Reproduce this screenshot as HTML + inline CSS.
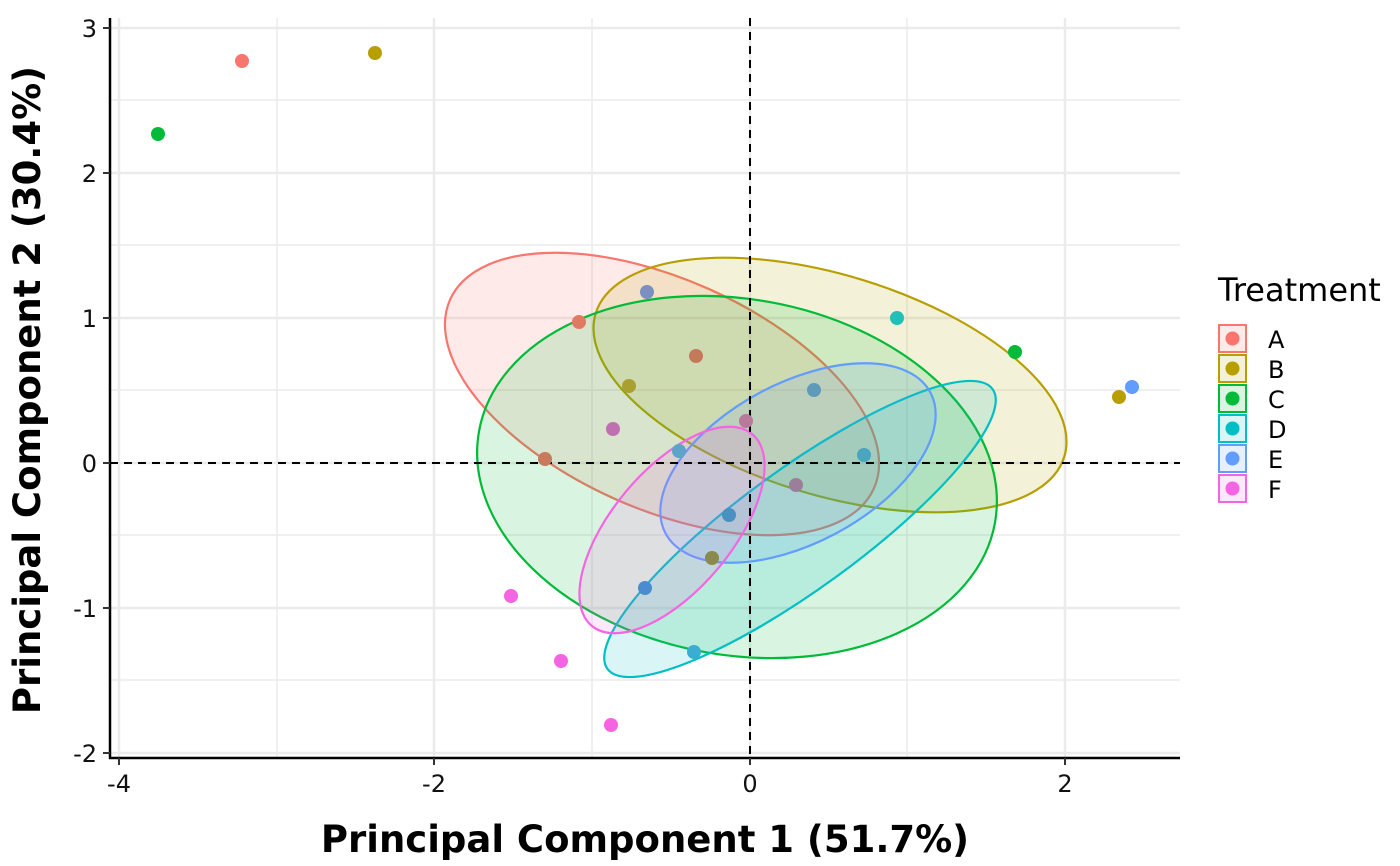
<!DOCTYPE html>
<html><head><meta charset="utf-8"><style>
html,body{margin:0;padding:0;background:#fff;}
svg{display:block;font-family:"DejaVu Sans","Liberation Sans",sans-serif;}
</style></head><body>
<svg width="1400" height="866" xmlns="http://www.w3.org/2000/svg">
<rect width="1400" height="866" fill="#fff"/>
<g stroke="#ebebeb" stroke-width="1.5">
<line x1="277" y1="18" x2="277" y2="758"/><line x1="592" y1="18" x2="592" y2="758"/><line x1="907" y1="18" x2="907" y2="758"/>
<line x1="110" y1="100" x2="1180" y2="100"/><line x1="110" y1="245" x2="1180" y2="245"/><line x1="110" y1="390" x2="1180" y2="390"/><line x1="110" y1="535" x2="1180" y2="535"/><line x1="110" y1="680" x2="1180" y2="680"/>
</g>
<g stroke="#ebebeb" stroke-width="2.5">
<line x1="119" y1="18" x2="119" y2="758"/><line x1="434" y1="18" x2="434" y2="758"/><line x1="750" y1="18" x2="750" y2="758"/><line x1="1065" y1="18" x2="1065" y2="758"/>
<line x1="110" y1="28" x2="1180" y2="28"/><line x1="110" y1="173" x2="1180" y2="173"/><line x1="110" y1="318" x2="1180" y2="318"/><line x1="110" y1="463" x2="1180" y2="463"/><line x1="110" y1="608" x2="1180" y2="608"/><line x1="110" y1="753" x2="1180" y2="753"/>
</g>
<g stroke-width="2.2">
<ellipse cx="662" cy="394" rx="232" ry="115" transform="rotate(24 662 394)" fill="#F8766D" fill-opacity="0.15" stroke="#F8766D"/>
<ellipse cx="830" cy="385" rx="245" ry="110" transform="rotate(17 830 385)" fill="#B79F00" fill-opacity="0.15" stroke="#B79F00"/>
<ellipse cx="737" cy="477" rx="262" ry="178" transform="rotate(10 737 477)" fill="#00BA38" fill-opacity="0.15" stroke="#00BA38"/>
<ellipse cx="800" cy="529" rx="238" ry="60" transform="rotate(-36 800 529)" fill="#00BFC4" fill-opacity="0.15" stroke="#00BFC4"/>
<ellipse cx="798" cy="463" rx="150" ry="80" transform="rotate(-28 798 463)" fill="#619CFF" fill-opacity="0.15" stroke="#619CFF"/>
<ellipse cx="672" cy="530" rx="125" ry="60" transform="rotate(-50 672 530)" fill="#F564E3" fill-opacity="0.15" stroke="#F564E3"/>
</g>
<g stroke="#000" stroke-width="2" stroke-dasharray="8,6">
<line x1="750" y1="18" x2="750" y2="758"/><line x1="110" y1="463" x2="1180" y2="463"/>
</g>
<g>
<circle cx="242" cy="61" r="7" fill="#F8766D"/>
<circle cx="375" cy="53" r="7" fill="#B79F00"/>
<circle cx="158" cy="134" r="7" fill="#00BA38"/>
<circle cx="647" cy="292" r="7" fill="#7b8fc0"/>
<circle cx="579" cy="322" r="7" fill="#e07a60"/>
<circle cx="897" cy="318" r="7" fill="#1fc0b8"/>
<circle cx="1015" cy="352" r="7" fill="#00BA38"/>
<circle cx="696" cy="356" r="7" fill="#c47a5a"/>
<circle cx="629" cy="386" r="7" fill="#a9a030"/>
<circle cx="814" cy="390" r="7" fill="#5f9bb8"/>
<circle cx="1119" cy="397" r="7" fill="#B79F00"/>
<circle cx="1132" cy="387" r="7" fill="#619CFF"/>
<circle cx="746" cy="421" r="7" fill="#b87a9a"/>
<circle cx="613" cy="429" r="7" fill="#c070b0"/>
<circle cx="545" cy="459" r="7" fill="#c87a5c"/>
<circle cx="679" cy="451" r="7" fill="#5da4c8"/>
<circle cx="864" cy="455" r="7" fill="#4aa5c0"/>
<circle cx="796" cy="485" r="7" fill="#9a7e9a"/>
<circle cx="729" cy="515" r="7" fill="#4a90c0"/>
<circle cx="712" cy="558" r="7" fill="#8a8a4c"/>
<circle cx="645" cy="588" r="7" fill="#4a8cd0"/>
<circle cx="511" cy="596" r="7" fill="#F564E3"/>
<circle cx="561" cy="661" r="7" fill="#F564E3"/>
<circle cx="694" cy="652" r="7" fill="#3aaed0"/>
<circle cx="611" cy="725" r="7" fill="#F564E3"/>
</g>
<g stroke="#000" stroke-width="2.5">
<line x1="110" y1="18" x2="110" y2="759"/><line x1="109" y1="758" x2="1180" y2="758"/>
</g>
<g stroke="#333" stroke-width="2">
<line x1="103" y1="28" x2="110" y2="28"/><line x1="103" y1="173" x2="110" y2="173"/><line x1="103" y1="318" x2="110" y2="318"/><line x1="103" y1="463" x2="110" y2="463"/><line x1="103" y1="608" x2="110" y2="608"/><line x1="103" y1="753" x2="110" y2="753"/>
<line x1="119" y1="758" x2="119" y2="765"/><line x1="434" y1="758" x2="434" y2="765"/><line x1="750" y1="758" x2="750" y2="765"/><line x1="1065" y1="758" x2="1065" y2="765"/>
</g>
<g font-size="24" fill="#111" text-anchor="end">
<text x="97" y="37">3</text><text x="97" y="182">2</text><text x="97" y="327">1</text><text x="97" y="472">0</text><text x="97" y="617">-1</text><text x="97" y="762">-2</text>
</g>
<g font-size="24" fill="#111" text-anchor="middle">
<text x="119" y="792">-4</text><text x="434" y="792">-2</text><text x="750" y="792">0</text><text x="1065" y="792">2</text>
</g>
<text x="645" y="852" font-size="37" font-weight="bold" text-anchor="middle">Principal Component 1 (51.7%)</text>
<text transform="translate(40 390) rotate(-90)" font-size="37" font-weight="bold" text-anchor="middle">Principal Component 2 (30.4%)</text>
<text x="1218" y="301" font-size="32">Treatment</text>
<g stroke-width="2" font-size="24">
<rect x="1219" y="325" width="27" height="27" fill="#F8766D" fill-opacity="0.15" stroke="#F8766D"/><circle cx="1232.5" cy="338.5" r="7" fill="#F8766D"/><text x="1268" y="348">A</text>
<rect x="1219" y="355" width="27" height="27" fill="#B79F00" fill-opacity="0.15" stroke="#B79F00"/><circle cx="1232.5" cy="368.5" r="7" fill="#B79F00"/><text x="1268" y="378">B</text>
<rect x="1219" y="385" width="27" height="27" fill="#00BA38" fill-opacity="0.15" stroke="#00BA38"/><circle cx="1232.5" cy="398.5" r="7" fill="#00BA38"/><text x="1268" y="408">C</text>
<rect x="1219" y="415" width="27" height="27" fill="#00BFC4" fill-opacity="0.15" stroke="#00BFC4"/><circle cx="1232.5" cy="428.5" r="7" fill="#00BFC4"/><text x="1268" y="438">D</text>
<rect x="1219" y="445" width="27" height="27" fill="#619CFF" fill-opacity="0.15" stroke="#619CFF"/><circle cx="1232.5" cy="458.5" r="7" fill="#619CFF"/><text x="1268" y="468">E</text>
<rect x="1219" y="475" width="27" height="27" fill="#F564E3" fill-opacity="0.15" stroke="#F564E3"/><circle cx="1232.5" cy="488.5" r="7" fill="#F564E3"/><text x="1268" y="498">F</text>
</g>
</svg>
</body></html>
